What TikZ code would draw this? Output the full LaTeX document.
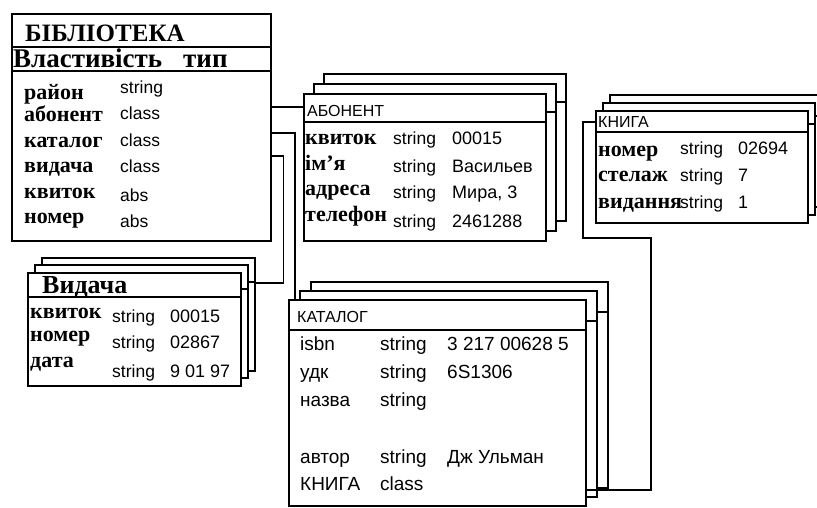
\documentclass[tikz,border=0pt]{standalone}
\usepackage{fontspec}
\setmainfont{Liberation Serif}
\setsansfont{Liberation Sans}
\usetikzlibrary{positioning,calc}
\tikzset{
  card/.style={draw, fill=white, line width=1.6pt, anchor=north west, inner sep=0pt},
  rule/.style={line width=1.6pt},
  link/.style={line width=1.6pt},
  title/.style={anchor=base west, inner sep=0pt, font=\bfseries\fontsize{25}{25}\selectfont},
  head/.style={anchor=base west, inner sep=0pt, font=\sffamily\fontsize{16}{16}\selectfont},
  fld/.style={anchor=base west, inner sep=0pt, font=\bfseries\fontsize{22}{22}\selectfont},
  typ/.style={anchor=base west, inner sep=0pt, font=\sffamily\fontsize{17.5}{18}\selectfont},
  val/.style={anchor=base west, inner sep=0pt, font=\sffamily\fontsize{18}{18}\selectfont},
  kat/.style={anchor=base west, inner sep=0pt, font=\sffamily\fontsize{19}{19}\selectfont}
}
\newcommand{\card}[6]{%
  \node[card, minimum width=#4, minimum height=#5] (#1) at (#2,#3) {};
  \draw[rule] ($(#1.north west)+(0,#6)$) -- ($(#1.north east)+(0,#6)$);
}

\begin{document}
\begin{tikzpicture}[x=1pt, y=-1pt]
        \useasboundingbox[fill=white] (0,0) rectangle (817,508);
        \clip (0,0) rectangle (817,508);

        \card{bib}{11}{13}{259}{227}{34}
        \draw[rule] ($(bib.north west)+(0,58)$) -- ($(bib.north east)+(0,58)$);
        \node[title] (bibtitle) at (25,42) {БІБЛІОТЕКА};
        \node[title, font=\bfseries\fontsize{27}{27}\selectfont] (bibprop) at (13,68) {Властивість};
        \node[title, font=\bfseries\fontsize{27}{27}\selectfont] (bibtype) at (183,68) {тип};
        \foreach \nm/\ty/\yn/\yt [count=\i] in {район/string/100/94, абонент/class/122/120,
            каталог/class/148/147, видача/class/173/173, квиток/abs/198/201, номер/abs/223/227}
          {\node[fld] (bibn\i) at (24,\yn) {\nm};
           \node[typ] (bibt\i) at (120,\yt) {\ty};}

        \card{abon3}{323}{73}{242}{147}{29}
        \card{abon2}{313}{83}{242}{147}{29}
        \card{abon}{303}{93}{242}{147}{29}
        \node[head] (abonhead) at (307,117) {АБОНЕНТ};
        \foreach \nm/\vl/\yn/\yt [count=\i] in {квиток/00015/145/145, ім’я/Васильев/171/172,
            адреса/{Мира, 3}/196/198, телефон/2461288/221/227}
          {\node[fld] (abonn\i) at (305,\yn) {\nm};
           \node[typ] (abont\i) at (393,\yt) {string};
           \node[val] (abonv\i) at (452,\yt) {\vl};}

        \card{knyha3}{609}{94}{212}{112}{22}
        \card{knyha2}{602}{102}{212}{112}{22}
        \card{knyha}{595}{110}{212}{112}{22}
        \node[head] (knyhahead) at (598,128) {КНИГА};
        \foreach \nm/\vl/\yn/\yt [count=\i] in {номер/02694/157/155, стелаж/7/182/182, видання/1/208/208}
          {\node[fld] (knyhan\i) at (598,\yn) {\nm};
           \node[typ] (knyhat\i) at (680,\yt) {string};
           \node[val] (knyhav\i) at (738,\yt) {\vl};}

        \card{vyd3}{41}{257}{213}{113}{25}
        \card{vyd2}{34}{264}{213}{113}{25}
        \card{vyd}{27}{272}{213}{113}{25}
        \node[title, font=\bfseries\fontsize{26}{26}\selectfont] (vydtitle) at (42,293) {Видача};
        \foreach \nm/\vl/\yn/\yt [count=\i] in {квиток/00015/318/322, номер/02867/341/348, дата/{9 01 97}/367/377}
          {\node[fld] (vydn\i) at (30,\yn) {\nm};
           \node[typ] (vydt\i) at (112,\yt) {string};
           \node[val] (vydv\i) at (170,\yt) {\vl};}

        \card{kat3}{310}{281}{297}{206}{31}
        \card{kat2}{299}{290}{297}{206}{31}
        \card{kat}{288}{299}{297}{206}{31}
        \node[head] (kathead) at (297,322) {КАТАЛОГ};
        \foreach \nm/\ty/\vl/\y [count=\i] in {isbn/string/{3 217 00628 5}/350, удк/string/6S1306/378,
            назва/string//406, автор/string/{Дж Ульман}/463, КНИГА/class//490}
          {\node[kat] (katn\i) at (300,\y) {\nm};
           \node[kat] (katt\i) at (380,\y) {\ty};
           \node[kat] (katv\i) at (447,\y) {\vl};}

        \draw[link] ($(bib.north east)+(0,94)$) -- ($(abon.north west)+(0,14)$);
        \draw[link] ($(bib.north east)+(0,120)$) -| ($(kat.north west)+(7,0)$);
        \draw[link] ($(bib.north east)+(0,143)$) -- ++(12,0) |- ($(vyd3.north east)+(0,26)$);
        \draw[link] ($(knyha.north west)+(0,12)$) -- ++(-12,0) -- ++(0,116) -- ++(68,0)
          |- ($(kat.north east)+(0,191)$);
      \end{tikzpicture}
\end{document}
